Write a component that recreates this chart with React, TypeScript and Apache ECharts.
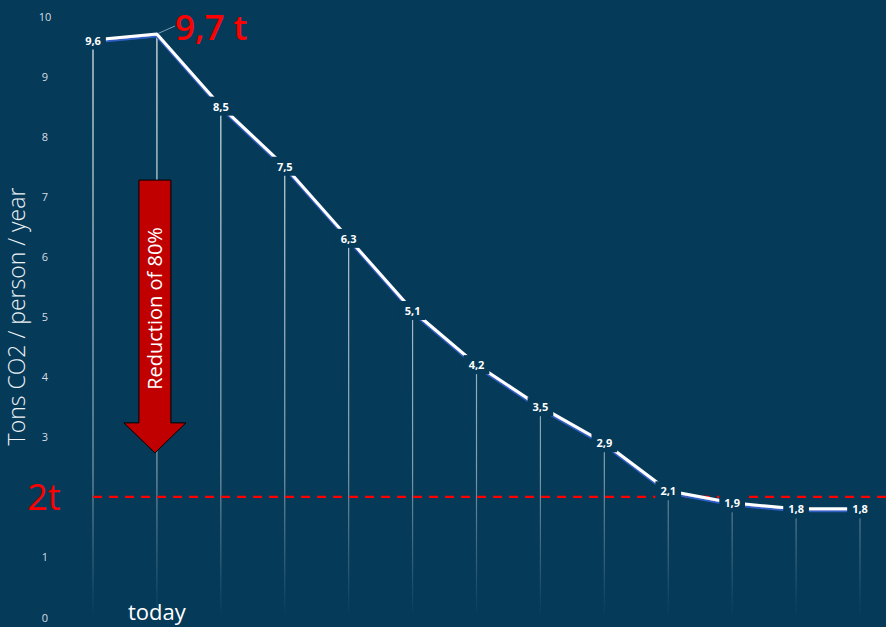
import React, { useEffect, useRef } from "react";
import * as echarts from "echarts";

const categories = ["start", "today", "t1", "t2", "t3", "t4", "t5", "t6", "t7", "t8", "t9", "t10", "t11"];
const values = [9.6, 9.7, 8.5, 7.5, 6.3, 5.1, 4.2, 3.5, 2.9, 2.1, 1.9, 1.8, 1.8];
const peakIndex = 1;
const peakLabel = "9,7 t";
const targetValue = 2;
const targetLabel = "2t";
const arrowTop = 7.27;
const arrowHeadStart = 3.23;
const arrowBottom = 2.73;
const arrowText = "Reduction of 80%";
const yMin = 0;
const yMax = 10;
const yInterval = 1;

const BG = "#053a59";
const FONT = "'Open Sans', 'Noto Sans', sans-serif";

const fmt = (v: number) => String(v).replace(".", ",");

export default function App() {
  const ref = useRef<HTMLDivElement>(null);
  useEffect(() => {
    if (!ref.current) return;
    const chart = echarts.init(ref.current, null, { renderer: "svg" });
    const option: any = {
      animation: false,
      backgroundColor: BG,
      textStyle: { fontFamily: FONT },
      grid: { left: 93, right: 26, top: 16, bottom: 10, containLabel: false, outerBoundsMode: "none" },
      xAxis: {
        type: "category",
        data: categories,
        boundaryGap: false,
        axisLine: { show: false },
        axisTick: { show: false },
        splitLine: { show: false },
        axisLabel: {
          interval: 0,
          margin: -17,
          color: "#ffffff",
          fontSize: 22,
          fontFamily: FONT,
          formatter: (v: string) => (v === "today" ? v : ""),
        },
      },
      yAxis: {
        type: "value",
        min: yMin,
        max: yMax,
        interval: yInterval,
        axisLine: { show: false },
        axisTick: { show: false },
        splitLine: { show: false },
        axisLabel: {
          color: "#d5dde4",
          fontSize: 11,
          align: "center",
          margin: 48,
          fontFamily: FONT,
          formatter: (v: number) => (v === targetValue ? "" : String(v)),
        },
        name: "Tons CO2 / person / year",
        nameLocation: "middle",
        nameGap: 65,
        nameTextStyle: { color: "#eef2f5", fontSize: 23, fontFamily: FONT, fontWeight: 300 },
      },
      series: [
        {
          type: "custom",
          name: "drops",
          z: 1,
          data: values.map((v, i) => [i, v]),
          renderItem: (params: any, api: any) => {
            const p = api.coord([api.value(0), api.value(1)]);
            const b = api.coord([api.value(0), 0]);
            const top = api.coord([0, yMax])[1];
            return {
              type: "line",
              shape: { x1: p[0], y1: p[1], x2: b[0], y2: b[1] },
              style: {
                stroke: new echarts.graphic.LinearGradient(
                  0,
                  top,
                  0,
                  b[1],
                  [
                    { offset: 0, color: "rgba(255,255,255,0.95)" },
                    { offset: 0.75, color: "rgba(255,255,255,0.5)" },
                    { offset: 1, color: "rgba(255,255,255,0)" },
                  ],
                  true
                ),
                lineWidth: 1.2,
              },
            };
          },
        },
        {
          type: "custom",
          name: "target",
          z: 2,
          data: [[0, targetValue]],
          renderItem: (params: any, api: any) => {
            const p = api.coord([api.value(0), api.value(1)]);
            return {
              type: "group",
              children: [
                {
                  type: "line",
                  shape: { x1: p[0], y1: p[1], x2: api.getWidth(), y2: p[1] },
                  style: { stroke: "#ff0000", lineWidth: 2.2, lineDash: [9, 7] },
                },
                {
                  type: "text",
                  style: {
                    x: 44,
                    y: p[1],
                    text: targetLabel,
                    fill: "#ff0000",
                    fontSize: 36,
                    fontFamily: FONT,
                    fontWeight: 500,
                    align: "center",
                    verticalAlign: "middle",
                  },
                },
              ],
            };
          },
        },
        {
          type: "line",
          name: "emissions",
          z: 3,
          symbol: "circle",
          symbolSize: 2,
          itemStyle: { color: "#ffffff" },
          lineStyle: {
            color: "#ffffff",
            width: 3,
            shadowColor: "#2e5fc4",
            shadowOffsetY: 2,
            shadowBlur: 0,
          },
          label: {
            show: true,
            position: "inside",
            color: "#ffffff",
            fontSize: 11,
            fontWeight: "bold",
            fontFamily: FONT,
            backgroundColor: BG,
            padding: [4, 5],
            formatter: (p: any) => fmt(p.value),
          },
          data: values.map((v, i) =>
            i === peakIndex
              ? {
                  value: v,
                  label: {
                    position: "right",
                    distance: 17,
                    offset: [0, -8],
                    formatter: peakLabel,
                    fontSize: 35,
                    lineHeight: 36,
                    color: "#ff0000",
                    fontWeight: 600,
                    backgroundColor: "transparent",
                    padding: 0,
                  },
                  labelLine: { show: true, lineStyle: { color: "#7d9bb5", width: 1 } },
                }
              : v
          ),
        },
      ],
    };
    chart.setOption(option);

    const top = chart.convertToPixel({ seriesIndex: 2 } as any, [peakIndex, arrowTop]) as number[];
    const mid = chart.convertToPixel({ seriesIndex: 2 } as any, [peakIndex, arrowHeadStart]) as number[];
    const bot = chart.convertToPixel({ seriesIndex: 2 } as any, [peakIndex, arrowBottom]) as number[];
    const cx = top[0] - 2;
    const sw = 16;
    const hw = 31;
    chart.setOption({
      graphic: [
        {
          type: "polygon",
          z: 10,
          shape: {
            points: [
              [cx - sw, top[1]],
              [cx + sw, top[1]],
              [cx + sw, mid[1]],
              [cx + hw, mid[1]],
              [cx, bot[1]],
              [cx - hw, mid[1]],
              [cx - sw, mid[1]],
            ],
          },
          style: { fill: "#c00000", stroke: "#000000", lineWidth: 1 },
        },
        {
          type: "text",
          z: 11,
          x: cx,
          y: (top[1] + mid[1]) / 2 + 7,
          rotation: Math.PI / 2,
          style: {
            text: arrowText,
            fill: "#ffffff",
            fontSize: 20,
            fontFamily: FONT,
            align: "center",
            verticalAlign: "middle",
          },
        },
      ],
    });
    return () => chart.dispose();
  }, []);
  return (
    <div style={{ position: "fixed", left: 0, top: 0, width: 886, height: 627, background: BG }}>
      <div ref={ref} style={{ width: 886, height: 627 }} />
    </div>
  );
}
